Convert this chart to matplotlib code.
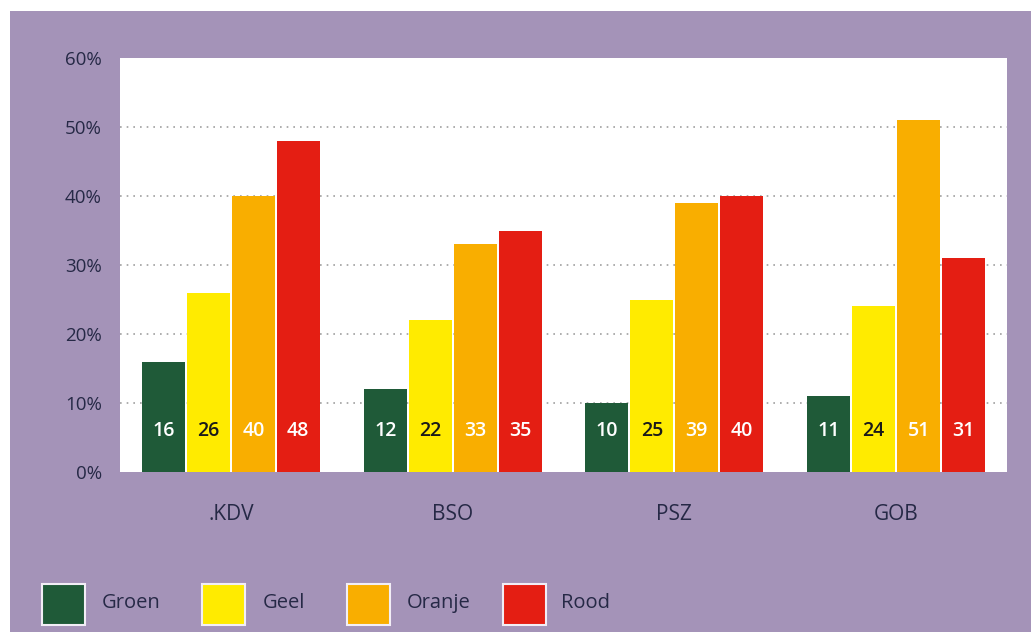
import matplotlib
matplotlib.use("Agg")
import matplotlib.pyplot as plt
from matplotlib.patches import Rectangle
import numpy as np

plt.rcParams['font.family'] = ['Open Sans', 'DejaVu Sans']

categories = ['.KDV', 'BSO', 'PSZ', 'GOB']
series = ['Groen', 'Geel', 'Oranje', 'Rood']
groen = [16, 12, 10, 11]
geel = [26, 22, 25, 24]
oranje = [40, 33, 39, 51]
rood = [48, 35, 40, 31]
values = [groen, geel, oranje, rood]
yticks = [0, 10, 20, 30, 40, 50, 60]

colors = ['#1F5A38', '#FFEB00', '#F9AE00', '#E41E13']
label_colors = ['white', '#1a1a1a', 'white', 'white']
purple = '#A493B8'
text_col = '#262946'

W, H = 1031, 632
fig = plt.figure(figsize=(W / 100, H / 100), dpi=100, facecolor='white')
fig.patches.append(Rectangle((10 / W, 0), 1 - 10 / W, 1 - 11 / H,
                             transform=fig.transFigure, facecolor=purple,
                             edgecolor='none', zorder=-5))

ax = fig.add_axes([120 / W, 160 / H, 887 / W, 414 / H])
ax.set_facecolor('white')

x = np.arange(len(categories))
step = 0.2027
width = 0.194
for i, (name, vals) in enumerate(zip(series, values)):
    pos = x + (i - 1.5) * step
    ax.bar(pos, vals, width=width, color=colors[i], zorder=3)
    for p, v in zip(pos, vals):
        ax.text(p, 6.0, str(v), ha='center', va='center', fontsize=14,
                fontweight='semibold', color=label_colors[i], zorder=4)

ax.set_xlim(-0.5, 3.5)
ax.set_ylim(0, 60)
ax.set_yticks(yticks)
ax.set_yticklabels([f'{t}%' for t in yticks], fontsize=13.5, color=text_col)
ax.set_xticks(x)
ax.set_xticklabels(categories, fontsize=15, color=text_col)
ax.tick_params(length=0)
ax.tick_params(axis='y', pad=13)
ax.tick_params(axis='x', pad=23)
for t in yticks[1:-1]:
    ax.axhline(t, color='#a0a0a0', linestyle=(0, (1, 3)), linewidth=1.2, zorder=1)
for s in ax.spines.values():
    s.set_visible(False)

# legend
sq_x = [42, 202, 347, 503]
tx_x = [102, 263, 407, 561]
for i, name in enumerate(series):
    fig.patches.append(Rectangle((sq_x[i] / W, (H - 625) / H), 43 / W, 41 / H,
                                 transform=fig.transFigure, facecolor=colors[i],
                                 edgecolor='#f2eef6', linewidth=1.5, zorder=2))
    fig.text(tx_x[i] / W, (H - 603) / H, name, fontsize=14.5, color=text_col,
             ha='left', va='center')

fig.savefig('out.png', dpi=100, facecolor=fig.get_facecolor())
